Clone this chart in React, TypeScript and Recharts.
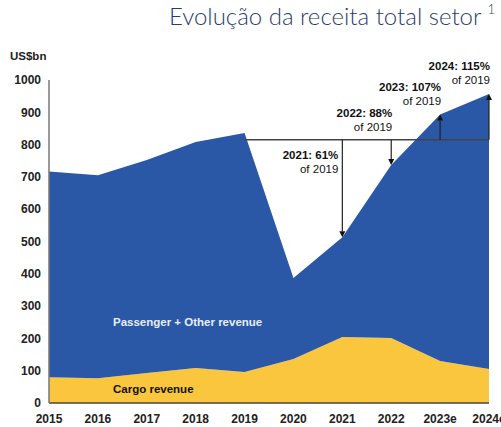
import React from 'react';
import { AreaChart, Area, XAxis, YAxis, ReferenceLine } from 'recharts';

const years = ['2015', '2016', '2017', '2018', '2019', '2020', '2021', '2022', '2023e', '2024e'];
const cargo = [80, 77, 93, 108, 96, 136, 204, 201, 130, 105];
const passenger = [637, 628, 659, 700, 740, 251, 309, 536, 763, 852];
const yTicks = [0, 100, 200, 300, 400, 500, 600, 700, 800, 900, 1000];

const baseline2019 = 815;
const annYears = ['2021', '2022', '2023e', '2024e'];
const annValues = [513, 737, 893, 957];
const annTitles = ['2021: 61%', '2022: 88%', '2023: 107%', '2024: 115%'];
const annSub = 'of 2019';

const data = years.map((y, i) => ({ year: y, cargo: cargo[i], passenger: passenger[i] }));

const BLUE = '#2a58a7';
const YELLOW = '#f9c63d';
const FONT = 'Liberation Sans, Arial, sans-serif';

const makeArrow = (idx: number) => (props: any) => {
  const { x1, y1, x2, y2 } = props;
  const down = y2 > y1;
  const ah = 6;
  const aw = 3;
  const tipY = y2;
  const baseY = down ? tipY - ah : tipY + ah;
  let tx: number;
  let ty1: number;
  if (idx === 0) {
    tx = x1 - 4;
    ty1 = y1 + 19;
  } else if (idx === 1) {
    tx = x1 + 1;
    ty1 = y1 - 23;
  } else {
    tx = x1 + 1;
    ty1 = Math.min(y1, y2) - 24;
  }
  return (
    <g>
      <line x1={x1} y1={y1} x2={x2} y2={baseY} stroke="#222" strokeWidth={1.2} />
      <polygon points={`${x2 - aw},${baseY} ${x2 + aw},${baseY} ${x2},${tipY}`} fill="#111" />
      <text x={tx} y={ty1} textAnchor="end" fontFamily={FONT} fontSize={11.5} fontWeight="bold" fill="#111">
        {annTitles[idx]}
      </text>
      <text x={tx} y={ty1 + 14} textAnchor="end" fontFamily={FONT} fontSize={11.5} fill="#111">
        {annSub}
      </text>
    </g>
  );
};

export default function App() {
  return (
    <div style={{ position: 'absolute', left: 0, top: 0, width: 501, height: 427, background: '#fff', overflow: 'hidden' }}>
      <div
        style={{
          position: 'absolute',
          right: 6,
          top: 1,
          fontFamily: 'Lato, sans-serif',
          fontWeight: 300,
          fontSize: 24,
          color: '#2c3d6c',
          whiteSpace: 'nowrap',
        }}
      >
        Evolução da receita total setor <sup style={{ fontSize: 13, verticalAlign: 'top', position: 'relative', top: 0 }}>1</sup>
      </div>
      <div style={{ position: 'absolute', left: 10, top: 50, fontFamily: FONT, fontSize: 11.5, fontWeight: 'bold', color: '#222' }}>
        US$bn
      </div>
      <AreaChart width={501} height={427} data={data} margin={{ top: 80, right: 12, bottom: 0, left: 9 }}>
        <XAxis
          dataKey="year"
          tickLine={false}
          axisLine={{ stroke: '#444', strokeWidth: 1.5 }}
          tick={{ fontSize: 12, fontWeight: 'bold', fill: '#222', fontFamily: FONT }}
          tickMargin={5}
          height={24}
          interval={0}
        />
        <YAxis
          domain={[0, 1000]}
          ticks={yTicks}
          tickLine={false}
          axisLine={{ stroke: '#777', strokeWidth: 1.5 }}
          tick={{ fontSize: 12, fontWeight: 'bold', fill: '#222', fontFamily: FONT }}
          width={40}
          interval={0}
        />
        <Area
          type="linear"
          dataKey="cargo"
          stackId="a"
          stroke="none"
          fill={YELLOW}
          fillOpacity={1}
          isAnimationActive={false}
        />
        <Area
          type="linear"
          dataKey="passenger"
          stackId="a"
          stroke="none"
          fill={BLUE}
          fillOpacity={1}
          isAnimationActive={false}
        />
        <ReferenceLine
          segment={[{ x: '2019', y: baseline2019 }, { x: '2024e', y: baseline2019 }]}
          stroke="#444"
          strokeWidth={1.3}
        />
        {annYears.map((y, i) => (
          <ReferenceLine
            key={y}
            segment={[{ x: y, y: baseline2019 }, { x: y, y: annValues[i] }]}
            shape={makeArrow(i)}
          />
        ))}
      </AreaChart>
      <div style={{ position: 'absolute', left: 113, top: 316, fontFamily: FONT, fontSize: 11.5, fontWeight: 'bold', color: '#e8eef8' }}>
        Passenger + Other revenue
      </div>
      <div style={{ position: 'absolute', left: 113, top: 383, fontFamily: FONT, fontSize: 11.5, fontWeight: 'bold', color: '#111' }}>
        Cargo revenue
      </div>
    </div>
  );
}
